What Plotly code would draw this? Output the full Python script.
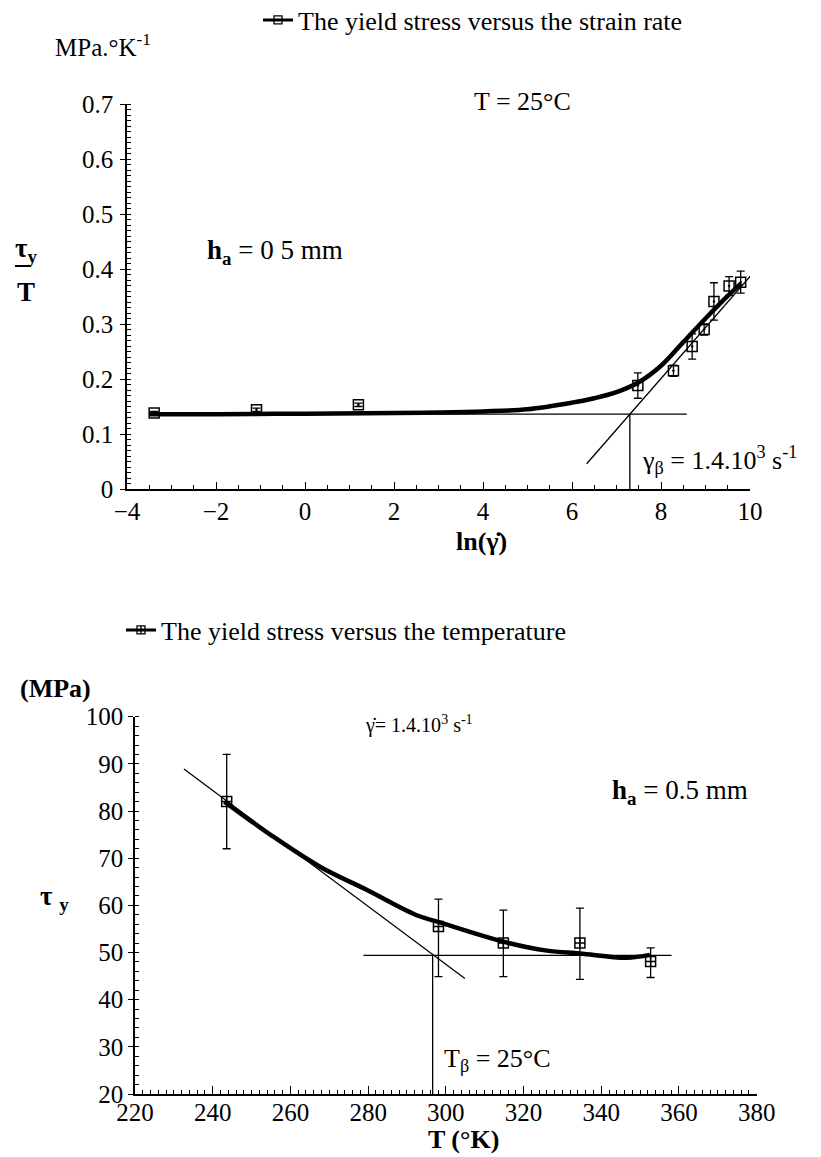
import plotly.graph_objects as go

W, H = 821, 1157
FONT = "Liberation Serif"

# ---------------- top chart data: tau_y/T vs ln(strain rate) ----------------
lnrate_pts = [-3.39, -1.09, 1.20, 7.48, 8.28, 8.70, 8.97, 9.19, 9.53, 9.79]
ratio_pts = [0.138, 0.144, 0.153, 0.188, 0.215, 0.259, 0.290, 0.341, 0.369, 0.376]
ratio_err = [0.003, 0.003, 0.003, 0.023, 0.010, 0.023, 0.010, 0.034, 0.017, 0.020]

fit1_x = [-3.5, -2, 0, 2, 3, 4, 5, 6, 6.5, 7, 7.5, 8, 8.5, 9, 9.5, 9.8]
fit1_y = [0.136, 0.136, 0.137, 0.138, 0.139, 0.141, 0.145, 0.157, 0.165, 0.176, 0.194, 0.224, 0.267, 0.310, 0.351, 0.374]

tan1_x = [6.33, 10.32]
tan1_y = [0.046, 0.416]
hor1_x = [-3.5, 8.58]
hor1_y = [0.136, 0.136]
ver1_x = [7.3, 7.3]
ver1_y = [0.0, 0.136]

# ---------------- bottom chart data: tau_y vs temperature ----------------
temp_pts = [243.6, 298.1, 314.8, 334.5, 352.7]
tau_pts = [82.0, 55.5, 52.0, 52.0, 48.1]
tau_err_plus = [10.0, 5.8, 7.0, 7.4, 2.9]
tau_err_minus = [10.0, 10.6, 7.1, 7.7, 3.4]

fit2_x = [243.0, 255, 267.6, 279.6, 292.5, 298, 314.8, 326, 334.5, 346.5, 352.5]
fit2_y = [82.0, 74.9, 68.2, 63.3, 57.9, 56.5, 52.3, 50.4, 49.8, 48.9, 49.5]

tan2_x = [232.6, 304.9]
tan2_y = [88.9, 44.5]
hor2_x = [278.8, 358.1]
hor2_y = [49.4, 49.4]
ver2_x = [296.6, 296.6]
ver2_y = [20.0, 49.4]

fig = go.Figure()

thin = dict(color="black", width=1.3)
thick = dict(color="black", width=4.5)

# top chart traces
for xs, ys in [(tan1_x, tan1_y), (hor1_x, hor1_y), (ver1_x, ver1_y)]:
    fig.add_trace(go.Scatter(x=xs, y=ys, mode="lines", line=thin, showlegend=False,
                             xaxis="x", yaxis="y"))
fig.add_trace(go.Scatter(x=fit1_x, y=fit1_y, mode="lines", line=thick, line_shape="spline",
                         showlegend=False, xaxis="x", yaxis="y"))
fig.add_trace(go.Scatter(x=lnrate_pts, y=ratio_pts, mode="markers",
                         marker=dict(symbol="square-open-dot", size=10, color="black",
                                     line=dict(width=1.5, color="black")),
                         error_y=dict(type="data", array=ratio_err, color="black",
                                      thickness=1.3, width=4),
                         showlegend=False, xaxis="x", yaxis="y"))
fig.add_trace(go.Scatter(x=[None], y=[None], mode="lines+markers",
                         name="The yield stress versus the strain rate",
                         line=dict(color="black", width=3),
                         marker=dict(symbol="square-open-dot", size=8, color="black",
                                     line=dict(width=1.3, color="black")),
                         legend="legend", xaxis="x", yaxis="y"))

# bottom chart traces
for xs, ys in [(tan2_x, tan2_y), (hor2_x, hor2_y), (ver2_x, ver2_y)]:
    fig.add_trace(go.Scatter(x=xs, y=ys, mode="lines", line=thin, showlegend=False,
                             xaxis="x2", yaxis="y2"))
fig.add_trace(go.Scatter(x=fit2_x, y=fit2_y, mode="lines", line=thick, line_shape="spline",
                         showlegend=False, xaxis="x2", yaxis="y2"))
fig.add_trace(go.Scatter(x=temp_pts, y=tau_pts, mode="markers",
                         marker=dict(symbol="square-cross-open", size=10, color="black",
                                     line=dict(width=1.5, color="black")),
                         error_y=dict(type="data", symmetric=False, array=tau_err_plus,
                                      arrayminus=tau_err_minus, color="black",
                                      thickness=1.3, width=4),
                         showlegend=False, xaxis="x2", yaxis="y2"))
fig.add_trace(go.Scatter(x=[None], y=[None], mode="lines+markers",
                         name="The yield stress versus the temperature",
                         line=dict(color="black", width=3),
                         marker=dict(symbol="square-cross-open", size=8, color="black",
                                     line=dict(width=1.3, color="black")),
                         legend="legend2", xaxis="x2", yaxis="y2"))

def px(x):
    return x / W

def py(y):
    return 1 - y / H

axis_common = dict(showline=True, linecolor="black", linewidth=1.6, mirror=False,
                   showgrid=False, zeroline=False, tickcolor="black", tickwidth=1.3,
                   tickfont=dict(family=FONT, size=25, color="black"))

fig.update_layout(
    width=W, height=H,
    margin=dict(l=0, r=0, t=0, b=0, autoexpand=False),
    paper_bgcolor="white", plot_bgcolor="white",
    font=dict(family=FONT, color="black", size=22),
    xaxis=dict(domain=[px(127), px(750)], range=[-4, 10], dtick=2, tick0=-4,
               ticks="inside", ticklen=7, ticklabelstandoff=-1,
               minor=dict(dtick=0.5, ticks="inside", ticklen=4, tickcolor="black", showgrid=False),
               anchor="y", **axis_common),
    yaxis=dict(domain=[py(489), py(104)], range=[0, 0.7], dtick=0.1, tick0=0,
               ticks="outside", ticklen=5, ticklabelstandoff=2,
               minor=dict(dtick=0.01, ticks="inside", ticklen=4, tickcolor="black", showgrid=False),
               anchor="x", **axis_common),
    xaxis2=dict(domain=[px(135), px(756.7)], range=[220, 380], dtick=20, tick0=220,
                ticks="inside", ticklen=8, ticklabelstandoff=-5,
                minor=dict(dtick=2, ticks="inside", ticklen=4, tickcolor="black", showgrid=False),
                anchor="y2", **axis_common),
    yaxis2=dict(domain=[py(1094), py(716.7)], range=[20, 100], dtick=10, tick0=20,
                ticks="outside", ticklen=5, ticklabelstandoff=0,
                minor=dict(dtick=2, ticks="inside", ticklen=4, tickcolor="black", showgrid=False),
                anchor="x2", **axis_common),
    legend=dict(x=px(258), y=py(20), xanchor="left", yanchor="middle",
                font=dict(family=FONT, size=26, color="black"), bgcolor="rgba(0,0,0,0)",
                itemwidth=30),
    legend2=dict(x=px(121), y=py(630), xanchor="left", yanchor="middle",
                 font=dict(family=FONT, size=26, color="black"), bgcolor="rgba(0,0,0,0)",
                 itemwidth=30),
)

def note(text, x, y, size=22, xanchor="left"):
    fig.add_annotation(text=text, x=px(x), y=py(y), xref="paper", yref="paper",
                       xanchor=xanchor, yanchor="middle", showarrow=False,
                       font=dict(family=FONT, size=size, color="black"))

# top chart texts
note("MPa.°K<sup>-1</sup>", 53, 45, 25)
note("T = 25°C", 472, 102, 26)
note("<b>h<sub>a</sub></b> = 0 5 mm", 205, 252, 27)
note("<b>τ<sub>y</sub></b>", 26, 250, 27, "center")
note("<b>T</b>", 26, 292, 27, "center")
fig.add_shape(type="line", xref="paper", yref="paper",
              x0=px(15), x1=px(31), y0=py(266), y1=py(266),
              line=dict(color="black", width=2))
note("γ<sub>β</sub> = 1.4.10<sup>3</sup> s<sup>-1</sup>", 640, 460, 26)
note("<b>ln(γ̇)</b>", 482, 541, 26, "center")

# bottom chart texts
note("<b>(MPa)</b>", 18, 688, 26)
note("γ̇= 1.4.10<sup>3</sup> s<sup>-1</sup>", 363, 725, 20)
note("<b>h<sub>a</sub></b> = 0.5 mm", 610, 792, 27)
note("<b>τ <sub>y</sub></b>", 54, 898, 27, "center")
note("T<sub>β</sub> = 25°C", 442, 1060, 26)
note("<b>T (°K)</b>", 464, 1139, 26, "center")

fig.write_html("out.html")
